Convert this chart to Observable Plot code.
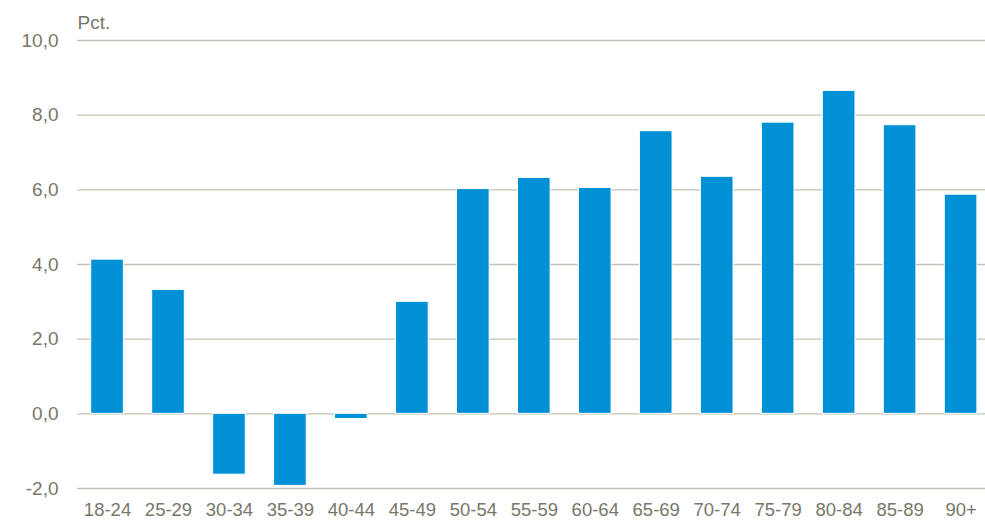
<!DOCTYPE html>
<html>
<head>
<meta charset="utf-8">
<script src="https://cdn.jsdelivr.net/npm/d3@7"></script>
<script src="https://cdn.jsdelivr.net/npm/@observablehq/plot@0.6"></script>
<style>
  html, body { margin: 0; padding: 0; background: #fff; }
  #chart { width: 985px; height: 526px; }
</style>
</head>
<body>
<div id="chart"></div>
<script>
const categories = ["18-24","25-29","30-34","35-39","40-44","45-49","50-54","55-59","60-64","65-69","70-74","75-79","80-84","85-89","90+"];
const values = [4.13, 3.32, -1.63, -1.93, -0.14, 3.0, 6.02, 6.32, 6.05, 7.57, 6.35, 7.8, 8.65, 7.73, 5.87];
const yTicks = [-2, 0, 2, 4, 6, 8, 10];
const unitLabel = "Pct.";

const data = categories.map((c, i) => ({cat: c, value: values[i]}));
const font = "'Liberation Sans Narrow', 'Arial Narrow', 'Liberation Sans', Arial, sans-serif";
const textColor = "#77776a";

const chart = Plot.plot({
  width: 985,
  height: 526,
  marginLeft: 77,
  marginRight: 0,
  marginTop: 40,
  marginBottom: 38,
  style: {fontFamily: font, fontSize: "19px", color: textColor, background: "#fff"},
  x: {domain: categories, range: [77, 990.6], paddingInner: 0.465, paddingOuter: 0.225, round: false, label: null},
  y: {domain: [-2, 10], label: null},
  marks: [
    Plot.ruleY(yTicks, {stroke: "#c2c2b6", strokeWidth: 1.3}),
    Plot.barY(data, {x: "cat", y: "value", fill: "#0090d5", stroke: "#ffffff", strokeWidth: 1}),
    Plot.axisY(yTicks, {
      tickSize: 0, tickPadding: 19,
      tickFormat: d => d3.format(".1f")(d).replace(".", ",").replace("−", "-"),
      fill: textColor, fontSize: 19, label: null
    }),
    Plot.axisX({tickSize: 0, tickPadding: 14, fill: textColor, fontSize: 18.5, label: null}),
    Plot.text([unitLabel], {frameAnchor: "top-left", dx: 0, dy: -25, text: d => d, fill: textColor, fontSize: 19, textAnchor: "start", lineAnchor: "top"})
  ]
});
document.getElementById("chart").appendChild(chart);
</script>
</body>
</html>
